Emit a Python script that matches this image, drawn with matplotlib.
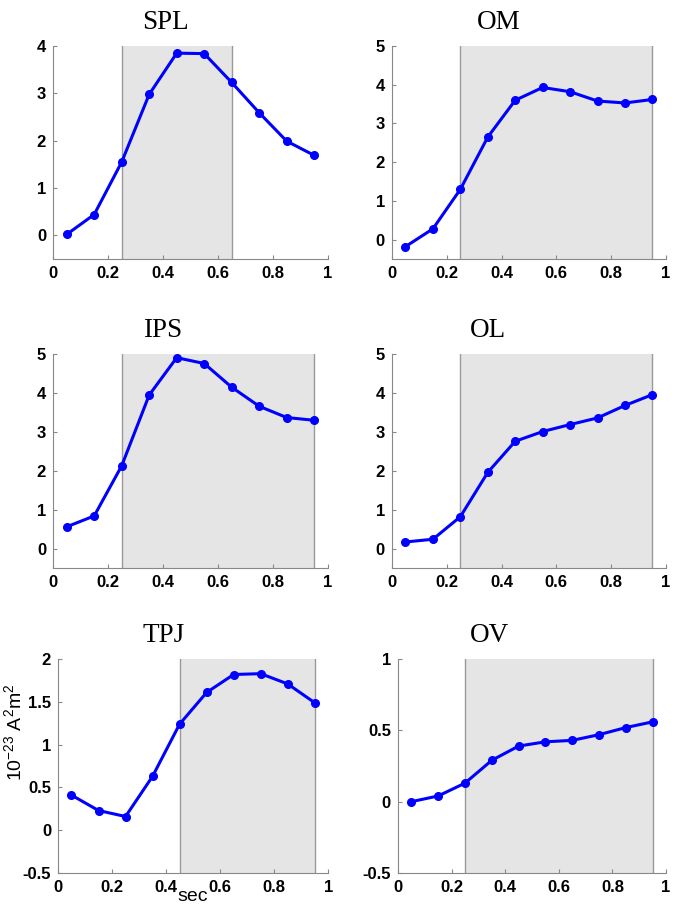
import matplotlib
matplotlib.use('Agg')
import matplotlib.pyplot as plt

plt.rcParams['font.family'] = ['Liberation Sans', 'DejaVu Sans']
plt.rcParams['mathtext.fontset'] = 'custom'
plt.rcParams['mathtext.rm'] = 'Liberation Sans'
plt.rcParams['mathtext.it'] = 'Liberation Sans:italic'
plt.rcParams['mathtext.bf'] = 'Liberation Sans:bold'
plt.rcParams['axes.unicode_minus'] = False

t = [0.05, 0.15, 0.25, 0.35, 0.45, 0.55, 0.65, 0.75, 0.85, 0.95]

spl = [0.02, 0.44, 1.55, 2.98, 3.85, 3.84, 3.23, 2.59, 1.99, 1.69]
om = [-0.18, 0.28, 1.30, 2.65, 3.60, 3.93, 3.82, 3.58, 3.53, 3.62]
ips = [0.56, 0.84, 2.13, 3.95, 4.91, 4.76, 4.15, 3.66, 3.37, 3.30]
ol = [0.17, 0.24, 0.82, 1.96, 2.76, 3.01, 3.19, 3.36, 3.68, 3.96]
tpj = [0.41, 0.23, 0.16, 0.63, 1.24, 1.61, 1.82, 1.83, 1.71, 1.49]
ov = [0.0, 0.04, 0.13, 0.29, 0.39, 0.42, 0.43, 0.47, 0.52, 0.56]

names = ['SPL', 'OM', 'IPS', 'OL', 'TPJ', 'OV']
series = [spl, om, ips, ol, tpj, ov]
windows = [(0.25, 0.65), (0.25, 0.95), (0.25, 0.95), (0.25, 0.95), (0.45, 0.95), (0.25, 0.95)]
ylims = [(-0.5, 4), (-0.5, 5), (-0.5, 5), (-0.5, 5), (-0.5, 2), (-0.5, 1)]
yticks = [[0, 1, 2, 3, 4], [0, 1, 2, 3, 4, 5], [0, 1, 2, 3, 4, 5], [0, 1, 2, 3, 4, 5],
          [-0.5, 0, 0.5, 1, 1.5, 2], [-0.5, 0, 0.5, 1]]
xticks = [0, 0.2, 0.4, 0.6, 0.8, 1]

# axes boxes in figure fraction
boxes = [[0.078, 0.7154, 0.405, 0.234], [0.577, 0.7154, 0.404, 0.234],
         [0.078, 0.3758, 0.405, 0.235], [0.577, 0.3758, 0.404, 0.235],
         [0.0854, 0.0407, 0.398, 0.235], [0.586, 0.0407, 0.395, 0.235]]
title_x = [0.41, 0.39, 0.40, 0.35, 0.39, 0.34]

fig = plt.figure(figsize=(6.79, 9.10), dpi=100)

for i in range(6):
    ax = fig.add_axes(boxes[i])
    a, b = windows[i]
    ax.axvspan(a, b, facecolor='#e5e5e5', edgecolor='none', zorder=0)
    ax.axvline(a, color='#999999', lw=1.0, zorder=1)
    ax.axvline(b, color='#999999', lw=1.0, zorder=1)
    ax.plot(t, series[i], color='#0000ff', lw=2.2, marker='o', ms=5.5, zorder=3)
    ax.set_xlim(0, 1)
    ax.set_ylim(*ylims[i])
    ax.set_xticks(xticks)
    ax.set_xticklabels(['0', '0.2', '0.4', '0.6', '0.8', '1'])
    ax.set_yticks(yticks[i])
    ax.set_yticklabels(['%g' % v for v in yticks[i]])
    for s in ['top', 'right']:
        ax.spines[s].set_visible(False)
    for s in ['left', 'bottom']:
        ax.spines[s].set_color('#888888')
        ax.spines[s].set_linewidth(0.8)
    ax.tick_params(direction='in', length=3, color='#888888', pad=5)
    for lab in ax.get_xticklabels() + ax.get_yticklabels():
        lab.set_fontweight('bold')
        lab.set_fontsize(12)
    ax.text(title_x[i], 1.11, names[i], transform=ax.transAxes, ha='center', va='center',
            fontfamily='Liberation Serif', fontsize=19.5)
    if i == 4:
        ax.set_ylabel(r'10$^{-23}$ A$^2$m$^2$', fontsize=14)
        ax.yaxis.set_label_coords(-0.12, 0.66)
        ax.set_xlabel('sec', fontsize=14, labelpad=-5)

fig.savefig('out.png', dpi=100)
